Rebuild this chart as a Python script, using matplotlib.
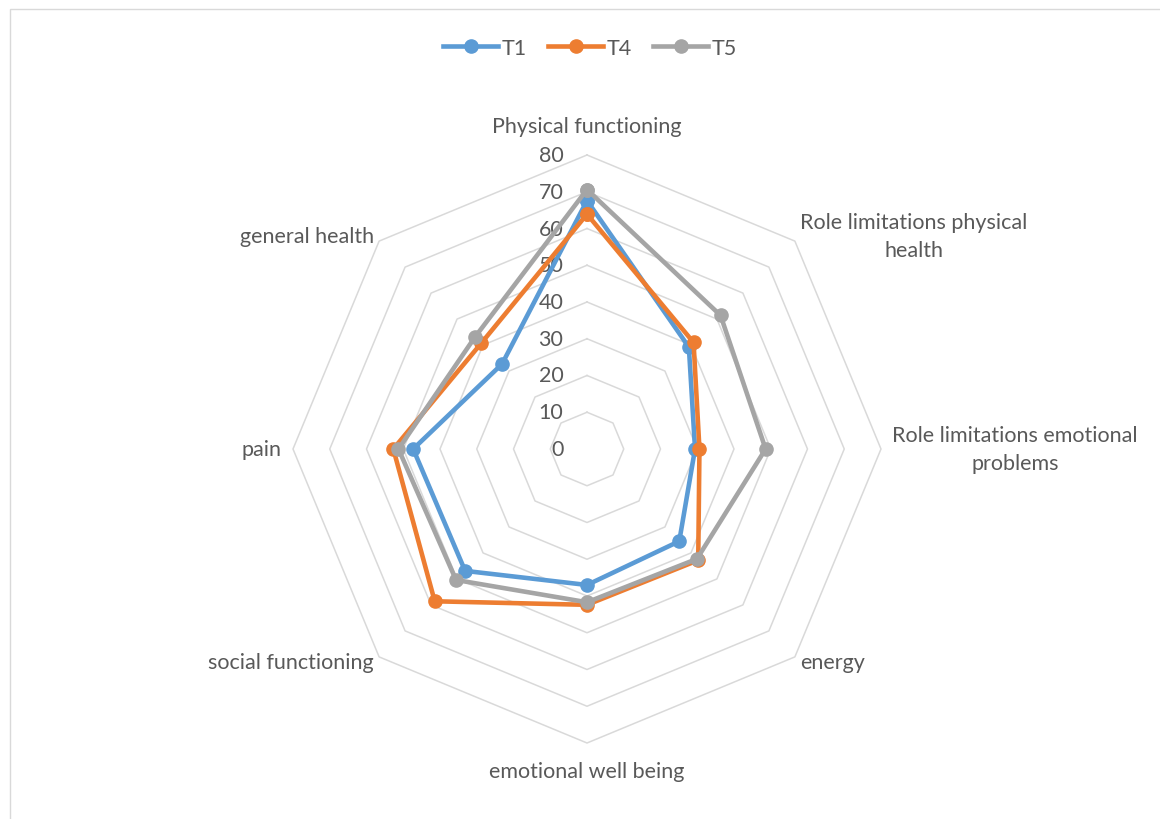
import numpy as np
import matplotlib
matplotlib.use('Agg')
import matplotlib.pyplot as plt
from matplotlib.patches import Rectangle

# Radar chart of quality-of-life scores at three time points (T1, T4, T5)

categories = ['Physical functioning', 'Role limitations physical\nhealth',
              'Role limitations emotional\nproblems', 'energy', 'emotional well being',
              'social functioning', 'pain', 'general health']
t1 = [67.6, 39.2, 29.4, 35.5, 37.0, 46.9, 47.3, 32.7]
t4 = [63.9, 41.0, 30.6, 42.8, 42.4, 58.6, 52.7, 40.7]
t5 = [70.6, 51.4, 48.6, 42.3, 41.7, 50.4, 51.3, 43.1]
series = [('T1', t1, '#5B9BD5'), ('T4', t4, '#ED7D31'), ('T5', t5, '#A5A5A5')]
ticks = [0, 10, 20, 30, 40, 50, 60, 70, 80]

plt.rcParams['font.family'] = ['Lato', 'DejaVu Sans']
text_color = '#595959'
fs = 15.5

W, H = 1160, 820
fig = plt.figure(figsize=(W / 100, H / 100), dpi=100)

# light chart border
fig.patches.append(Rectangle((10 / W, -0.1), 1.2, 1 - 10 / H + 0.1, transform=fig.transFigure,
                             fill=False, edgecolor='#D9D9D9', linewidth=1.0))

cx, cy, rad = 587, 450, 294
ax = fig.add_axes([(cx - rad) / W, (H - cy - rad) / H, 2 * rad / W, 2 * rad / H],
                  projection='polar')
ax.set_theta_offset(np.pi / 2)
ax.set_theta_direction(-1)
ax.set_ylim(0, 80)
ax.grid(False)
ax.spines['polar'].set_visible(False)
ax.set_xticks([])
ax.set_yticks([])
ax.patch.set_alpha(0)

n = len(categories)
angles = np.arange(n) * 2 * np.pi / n
closed = np.append(angles, angles[0])

# octagon gridlines
for r in ticks:
    ax.plot(closed, [r] * (n + 1), color='#D9D9D9', linewidth=1.1, zorder=1, clip_on=False)

# value labels along the top axis
for r in ticks:
    ax.annotate(str(r), xy=(0, r), xytext=(-17, 0), textcoords='offset points',
                ha='right', va='center', fontsize=fs, color=text_color)

for name, vals, col in series:
    ax.plot(closed, vals + vals[:1], color=col, linewidth=3.3, marker='o',
            markersize=9.5, label=name, zorder=3, clip_on=False)

# category labels
label_pos = [(85.2, 'center', 'bottom'), (82, 'left', 'center'), (83, 'left', 'center'),
             (82, 'left', 'center'), (85, 'center', 'top'), (82, 'right', 'center'),
             (83, 'right', 'center'), (82, 'right', 'center')]
for ang, cat, (r, ha, va) in zip(angles, categories, label_pos):
    ax.text(ang, r, cat, ha=ha, va=va, multialignment='center', fontsize=fs,
            color=text_color, linespacing=1.55)

fig.legend(loc='center', bbox_to_anchor=(590 / W, 1 - 49 / H), ncol=3, frameon=False,
           fontsize=fs, labelcolor=text_color, handlelength=2.55, handletextpad=0.15,
           columnspacing=1.0)

fig.savefig('out.png', dpi=100)
